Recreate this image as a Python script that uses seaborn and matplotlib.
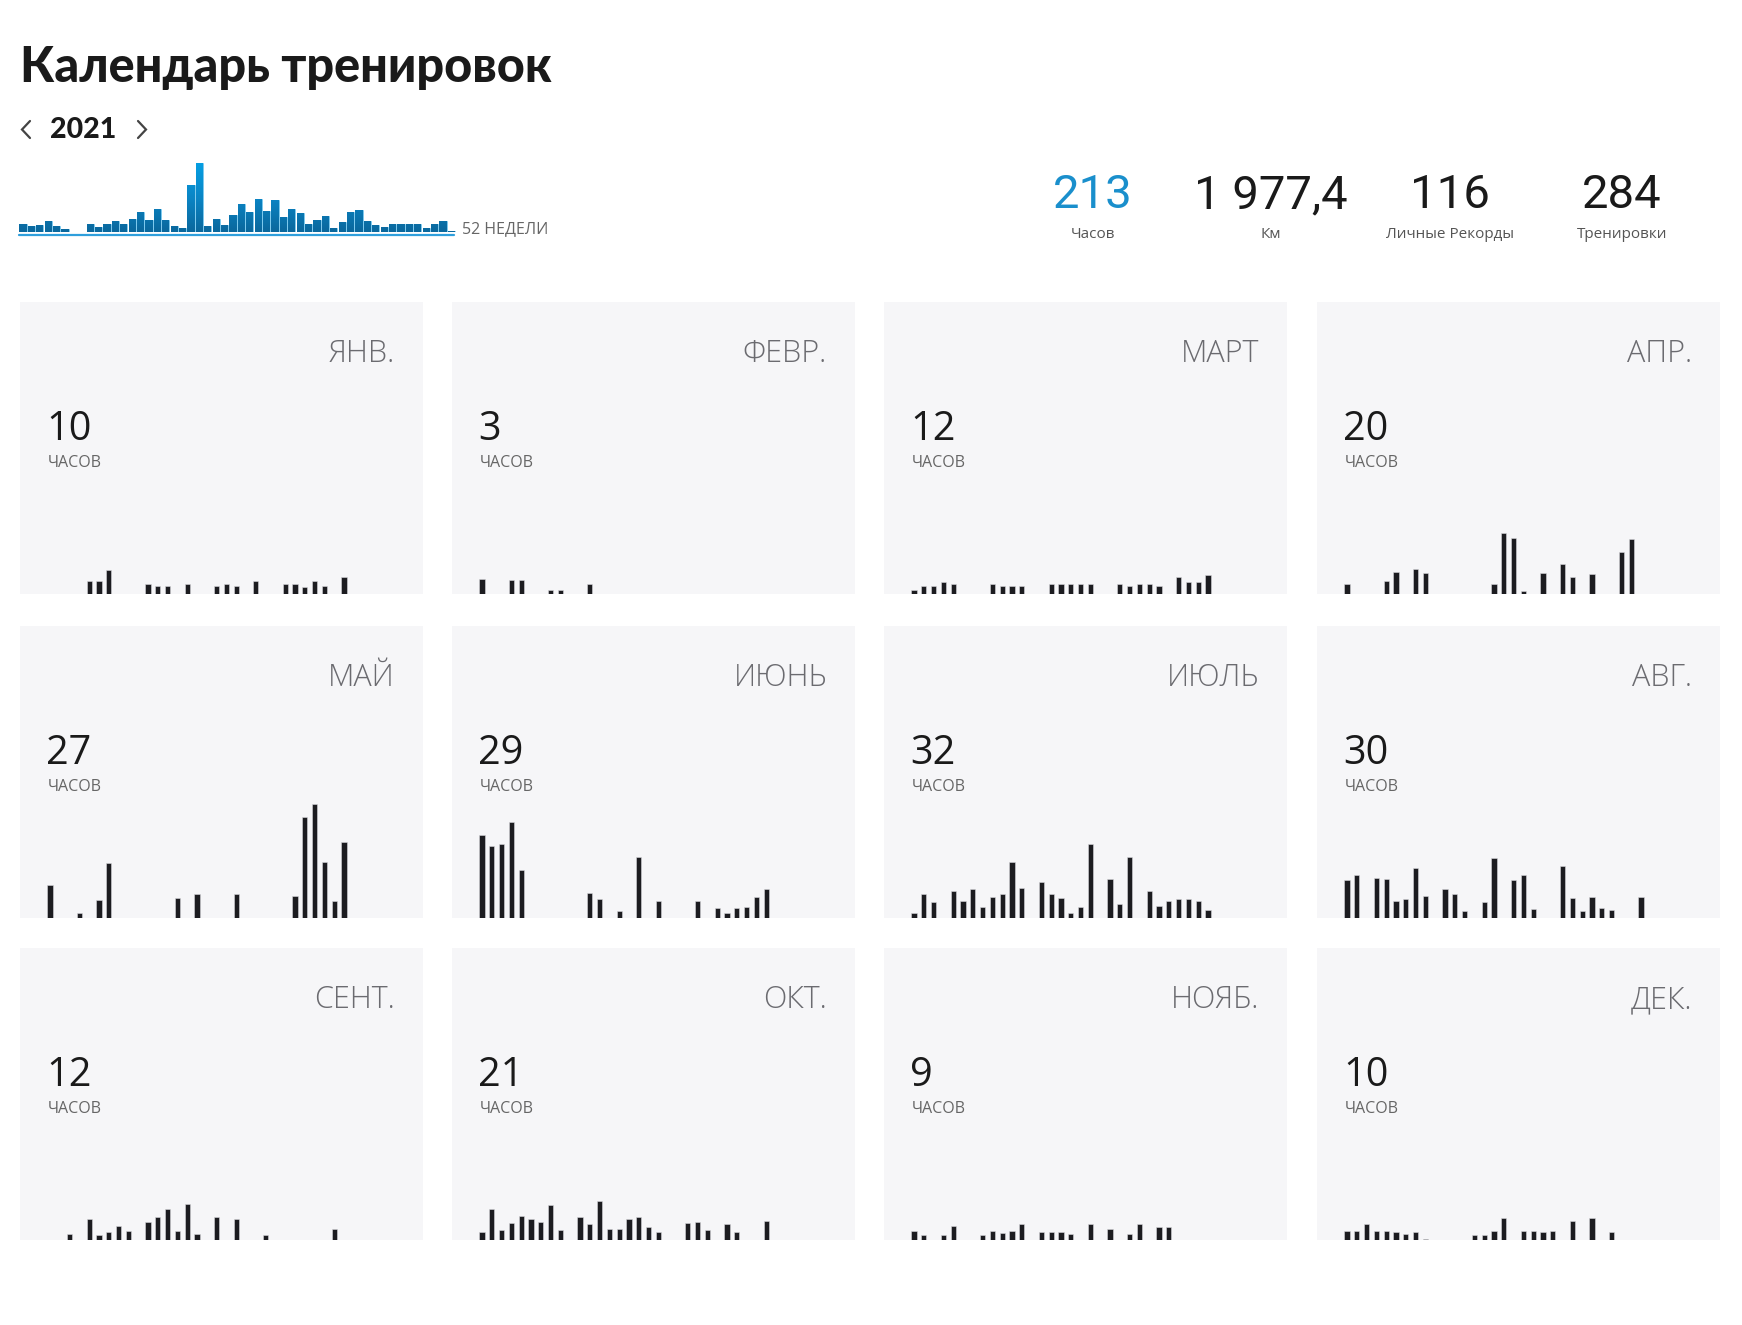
import numpy as np
import pandas as pd
import matplotlib
matplotlib.use("Agg")
import matplotlib.pyplot as plt
from matplotlib.lines import Line2D
from matplotlib.colors import LinearSegmentedColormap
from matplotlib.patches import PathPatch
from matplotlib.path import Path
import seaborn as sns

# ---------------- data ----------------
title = "Календарь тренировок"
year_label = "2021"
weeks_label = "52 НЕДЕЛИ"
stat_values = ["213", "1 977,4", "116", "284"]
stat_labels = ["Часов", "Км", "Личные Рекорды", "Тренировки"]

weekly_hours = [2.4, 1.8, 2.1, 3.3, 1.8, 0.9, 0.0, 0.0, 2.4, 1.6, 2.4, 3.3, 2.4,
                4.1, 6.1, 3.7, 7.0, 3.7, 1.9, 1.1, 14.7, 21.4, 1.9, 4.1, 2.1, 5.2,
                8.7, 6.3, 10.3, 6.5, 10.0, 4.7, 7.0, 5.8, 2.4, 3.7, 4.9, 1.1, 3.0,
                6.1, 6.7, 3.3, 2.1, 1.6, 2.4, 2.4, 2.4, 2.4, 1.3, 2.4, 3.3, 0.3]

month_names = ["ЯНВ.", "ФЕВР.", "МАРТ", "АПР.", "МАЙ", "ИЮНЬ",
               "ИЮЛЬ", "АВГ.", "СЕНТ.", "ОКТ.", "НОЯБ.", "ДЕК."]
month_hours = [10, 3, 12, 20, 27, 29, 32, 30, 12, 21, 9, 10]
hours_word = "ЧАСОВ"

# daily training time (minutes) per month: day numbers and minutes
jan_days = [5, 6, 7, 11, 12, 13, 15, 18, 19, 20, 22, 25, 26, 27, 28, 29, 31]
jan_min = [39, 39, 70, 30, 25, 25, 30, 25, 30, 25, 39, 30, 30, 22, 39, 25, 51]
feb_days = [1, 4, 5, 8, 9, 12]
feb_min = [44, 40, 40, 12, 12, 30]
mar_days = [1, 2, 3, 4, 5, 9, 10, 11, 12, 15, 16, 17, 18, 19, 22, 23, 24, 25, 26, 28, 29, 30, 31]
mar_min = [12, 24, 24, 36, 30, 30, 25, 25, 25, 30, 30, 30, 30, 30, 30, 25, 30, 30, 25, 49, 34, 34, 57]
apr_days = [1, 5, 6, 8, 9, 16, 17, 18, 19, 21, 23, 24, 26, 29, 30]
apr_min = [30, 38, 65, 73, 63, 30, 179, 165, 9, 63, 87, 49, 59, 124, 161]
may_days = [1, 4, 6, 7, 14, 16, 20, 26, 27, 28, 29, 30, 31]
may_min = [97, 14, 53, 162, 60, 70, 70, 65, 297, 335, 165, 50, 225]
jun_days = [1, 2, 3, 4, 5, 12, 13, 15, 17, 19, 23, 25, 26, 27, 28, 29, 30]
jun_min = [243, 212, 217, 281, 140, 73, 55, 20, 180, 50, 50, 28, 14, 28, 33, 63, 84]
jul_days = [1, 2, 3, 5, 6, 7, 8, 9, 10, 11, 12, 14, 15, 16, 17, 18, 19, 21, 22, 23,
            25, 26, 27, 28, 29, 30, 31]
jul_min = [15, 71, 47, 79, 50, 84, 33, 62, 71, 164, 87, 105, 71, 60, 15, 33, 217, 116, 42, 180,
           79, 36, 50, 55, 55, 50, 25]
aug_days = [1, 2, 4, 5, 6, 7, 8, 9, 11, 12, 13, 15, 16, 18, 19, 20, 23, 24, 25, 26, 27, 28, 31]
aug_min = [111, 127, 119, 116, 50, 55, 148, 66, 84, 71, 21, 47, 177, 111, 127, 26, 153, 60, 21,
           63, 28, 23, 63]
sep_days = [3, 5, 6, 7, 8, 9, 11, 12, 13, 14, 15, 16, 18, 20, 23, 30]
sep_min = [19, 61, 16, 24, 40, 27, 53, 67, 90, 27, 106, 19, 67, 61, 16, 31]
oct_days = [1, 2, 3, 4, 5, 6, 7, 8, 9, 11, 12, 13, 14, 15, 16, 17, 18, 19, 22, 23, 24, 26, 27, 30]
oct_min = [24, 90, 29, 51, 70, 63, 53, 104, 29, 67, 48, 114, 31, 31, 63, 67, 37, 24, 51, 53, 29,
           48, 24, 56]
nov_days = [1, 2, 4, 5, 8, 9, 10, 11, 12, 14, 15, 16, 17, 19, 21, 23, 24, 26, 27]
nov_min = [26, 16, 16, 40, 16, 26, 21, 27, 48, 24, 24, 24, 19, 48, 31, 19, 48, 39, 38]
dec_days = [1, 2, 3, 4, 5, 6, 7, 8, 9, 14, 15, 16, 17, 19, 20, 21, 22, 24, 26, 28]
dec_min = [26, 26, 48, 27, 27, 24, 19, 24, 4, 16, 16, 26, 64, 26, 26, 24, 26, 55, 66, 24]

month_days = [jan_days, feb_days, mar_days, apr_days, may_days, jun_days,
              jul_days, aug_days, sep_days, oct_days, nov_days, dec_days]
month_mins = [jan_min, feb_min, mar_min, apr_min, may_min, jun_min,
              jul_min, aug_min, sep_min, oct_min, nov_min, dec_min]

# ---------------- styling / layout ----------------
W, H = 1742, 1325
sns.set_theme(style="white")
plt.rcParams['font.family'] = ['Open Sans', 'DejaVu Sans']

fig = plt.figure(figsize=(W / 100, H / 100), dpi=100)
fig.patch.set_facecolor("white")


def fx(x):
    return x / W


def fy(y):
    return 1 - y / H


def add_ax(l, t, w, h):
    return fig.add_axes([l / W, 1 - (t + h) / H, w / W, h / H])


def clean(ax):
    ax.set_xticks([])
    ax.set_yticks([])
    ax.set_xlabel("")
    ax.set_ylabel("")
    for s in ax.spines.values():
        s.set_visible(False)


bold_family = ["Lato", "DejaVu Sans"]

# title
fig.text(fx(20), fy(68), title, fontsize=35, fontweight="black", color="#1a1a1a",
         ha="left", va="center", family=bold_family)
fig.text(fx(83), fy(130), year_label, fontsize=20.5, fontweight="black", color="#1a1a1a",
         ha="center", va="center", family=bold_family)
chev_kw = dict(color="#444444", lw=1.6, solid_capstyle="round", solid_joinstyle="miter")
fig.add_artist(Line2D([fx(30), fx(22), fx(30)], [fy(121), fy(129.5), fy(138)], **chev_kw))
fig.add_artist(Line2D([fx(138), fx(146), fx(138)], [fy(121), fy(129.5), fy(138)], **chev_kw))

# weekly chart
px_per_week = 8.4
wl, wt, ww, wh = 19, 150, 437, 82
axw = add_ax(wl, wt, ww, wh)
wdf = pd.DataFrame({"week": np.arange(1, len(weekly_hours) + 1), "hours": weekly_hours})
sns.barplot(data=wdf, x="week", y="hours", native_scale=True, width=0.84,
            color="#0a8fd3", saturation=1, errorbar=None, ax=axw,
            edgecolor="#7ccbf0", linewidth=0.5)
x0 = 1 - (23 - wl) / px_per_week
ymax = wh / 3.22
axw.set_xlim(x0, x0 + ww / px_per_week)
axw.set_ylim(0, ymax)
axw.patch.set_alpha(0)
clean(axw)
# vertical gradient fill for the weekly bars
grad_cmap = LinearSegmentedColormap.from_list("bluegrad", ["#0b679c", "#0a86c6", "#05a0e4"])
grad = np.linspace(0, 1, 256).reshape(-1, 1)
img = axw.imshow(grad, cmap=grad_cmap, aspect="auto", origin="lower",
                 extent=[x0, x0 + ww / px_per_week, 0, 22.0], zorder=3)
verts, codes = [], []
for p in axw.patches:
    bx, by = p.get_x(), p.get_y()
    bw, bh = p.get_width(), p.get_height()
    if bh <= 0:
        continue
    verts += [(bx, by), (bx + bw, by), (bx + bw, by + bh), (bx, by + bh), (bx, by)]
    codes += [Path.MOVETO, Path.LINETO, Path.LINETO, Path.LINETO, Path.CLOSEPOLY]
clip = PathPatch(Path(verts, codes), transform=axw.transData, facecolor="none", edgecolor="none")
axw.add_patch(clip)
img.set_clip_path(clip)
axw.set_xlim(x0, x0 + ww / px_per_week)
axw.set_ylim(0, ymax)
fig.add_artist(Line2D([fx(19), fx(454)], [fy(234.5), fy(234.5)], color="#2f9fdc", lw=1.6))
fig.text(fx(462), fy(229), weeks_label, fontsize=11.5, color="#666666", ha="left", va="center")

# stats
stat_x = [1093, 1271, 1450, 1622]
for i, (v, lab) in enumerate(zip(stat_values, stat_labels)):
    col = "#1a8fcc" if i == 0 else "#1a1a1a"
    fig.text(fx(stat_x[i]), fy(195), v, fontsize=34, color=col, ha="center", va="center",
             family=["Roboto", "DejaVu Sans"], fontweight="normal")
    fig.text(fx(stat_x[i]), fy(235), lab, fontsize=11, color="#555555", ha="center", va="center")

# month panels
col_left = [20, 452, 884, 1317]
row_top = [302, 626, 948]
pw, ph = 403, 292
day_px = 9.8
min_px = 0.34

for m in range(12):
    r, c = divmod(m, 4)
    l, t = col_left[c], row_top[r]
    ax = add_ax(l, t, pw, ph)
    ax.set_facecolor("#f6f6f8")
    df = pd.DataFrame({"day": month_days[m], "minutes": month_mins[m]})
    sns.barplot(data=df, x="day", y="minutes", native_scale=True, width=0.55,
                color="#1c1c20", saturation=1, errorbar=None, ax=ax,
                edgecolor="#d8d8dc", linewidth=0.4)
    d0 = 1 - 30 / day_px
    ax.set_xlim(d0, d0 + pw / day_px)
    ax.set_ylim(0, ph / min_px)
    clean(ax)
    fig.text(fx(l + pw - 28), fy(t + 52), month_names[m], fontsize=22, color="#6b6b70",
             ha="right", va="center", fontweight="light")
    fig.text(fx(l + 26), fy(t + 128), str(month_hours[m]), fontsize=28.5, color="#1a1a1a",
             ha="left", va="center")
    fig.text(fx(l + 28), fy(t + 161), hours_word, fontsize=11.5, color="#666666",
             ha="left", va="center")

fig.savefig("out.png", dpi=100, facecolor="white")
